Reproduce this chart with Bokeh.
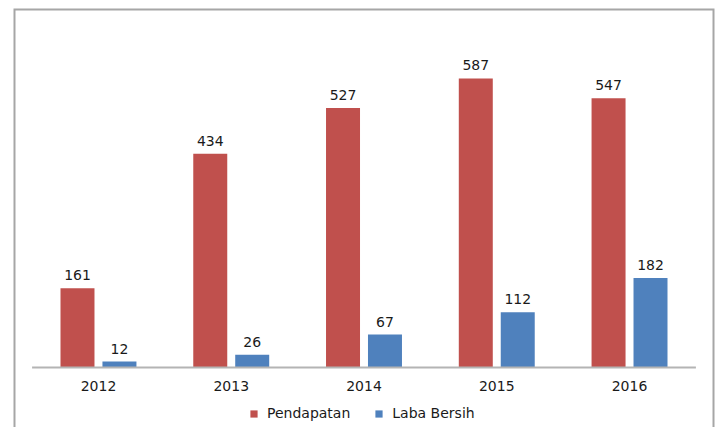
from bokeh.plotting import figure
from bokeh.models import ColumnDataSource, FactorRange, Range1d, Legend, LegendItem
from bokeh.transform import dodge
from bokeh.core.properties import value
from bokeh.embed import file_html
from bokeh.resources import INLINE

years = ["2012", "2013", "2014", "2015", "2016"]
pendapatan = [161, 434, 527, 587, 547]
laba_bersih = [12, 26, 67, 112, 182]
series_names = ["Pendapatan", "Laba Bersih"]
colors = ["#C0504D", "#4F81BD"]

src = ColumnDataSource(dict(
    years=years,
    pendapatan=pendapatan,
    laba=laba_bersih,
    pend_lbl=[str(v) for v in pendapatan],
    laba_lbl=[str(v) for v in laba_bersih],
    zero=[0] * len(years),
))

FONT = "DejaVu Sans"
TXT = "#1a1a1a"
PAD = 0.14
Y0, Y1 = -121.8, 729

p = figure(
    x_range=FactorRange(factors=years, range_padding=PAD, range_padding_units="absolute"),
    y_range=Range1d(Y0, Y1),
    width=718, height=427,
    output_backend="svg", toolbar_location=None,
    x_axis_location=None, y_axis_location=None,
    min_border_left=13, min_border_right=4,
    min_border_top=8, min_border_bottom=0,
)
p.outline_line_color = None
p.xgrid.visible = False
p.ygrid.visible = False

# chart-area border (left, top, right edges; the bottom edge lies below the view)
xl, xr = -PAD, len(years) + PAD
p.line(x=[xl, xl, xr, xr], y=[Y0 - 100, Y1, Y1, Y0 - 100],
       line_color="#a6a6a6", line_width=4, line_join="miter")

W = 0.256
OFF = 0.158
r1 = p.vbar(x=dodge("years", -OFF, range=p.x_range), top="pendapatan", width=W,
            source=src, fill_color=colors[0], line_color=None)
r2 = p.vbar(x=dodge("years", OFF, range=p.x_range), top="laba", width=W,
            source=src, fill_color=colors[1], line_color=None)

# category axis line and labels
p.segment(x0=[0], x1=[len(years)], y0=[0], y1=[0], line_color="#b4b4b4", line_width=2)
p.text(x="years", y="zero", text="years", source=src, text_align="center",
       text_baseline="middle", y_offset=18, text_font=value(FONT),
       text_font_size="14px", text_color=TXT)

p.text(x=dodge("years", -OFF, range=p.x_range), y="pendapatan", text="pend_lbl",
       source=src, text_align="center", text_baseline="alphabetic", y_offset=-13,
       text_font=value(FONT), text_font_size="14px", text_color=TXT)
p.text(x=dodge("years", OFF, range=p.x_range), y="laba", text="laba_lbl",
       source=src, text_align="center", text_baseline="alphabetic", y_offset=-13,
       text_font=value(FONT), text_font_size="14px", text_color=TXT)

legend = Legend(items=[LegendItem(label=series_names[0], renderers=[r1]),
                       LegendItem(label=series_names[1], renderers=[r2])],
                orientation="horizontal", location=(236, 6))
legend.border_line_color = None
legend.background_fill_alpha = 0
legend.glyph_width = 9
legend.glyph_height = 9
legend.label_height = 12
legend.label_text_font = FONT
legend.label_text_font_size = "14px"
legend.label_text_color = TXT
legend.label_text_baseline = "middle"
legend.spacing = 24
legend.padding = 0
legend.margin = 0
legend.label_standoff = 9
p.add_layout(legend)

open("out.html", "w").write(file_html(p, INLINE))
